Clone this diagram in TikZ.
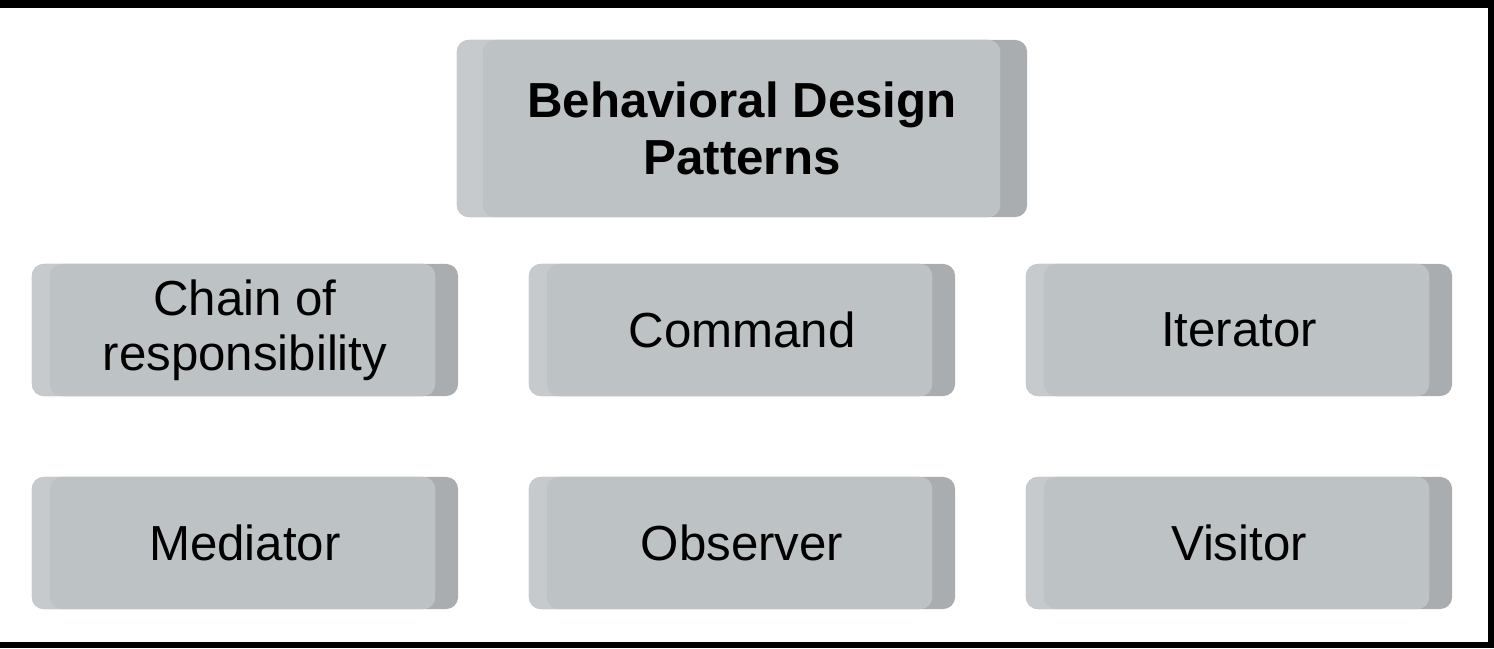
\documentclass[tikz,border=0pt]{standalone}
\usepackage{fontspec}
\setmainfont{Liberation Sans}
\definecolor{boxlight}{HTML}{C6CACC}
\definecolor{boxmid}{HTML}{BDC2C4}
\definecolor{boxdark}{HTML}{A9ADAF}
\tikzset{
  patbox/.style 2 args={rounded corners=0.12cm, fill=boxdark, inner sep=0pt,
    align=center, text=black,
    path picture={
      \fill[boxlight, rounded corners=0.12cm]
        (path picture bounding box.south west)
        rectangle ([xshift=-#2]path picture bounding box.north east);
      \fill[boxmid, rounded corners=0.12cm]
        ([xshift=#1]path picture bounding box.south west)
        rectangle ([xshift=-#2]path picture bounding box.north east);
    }},
  titlebox/.style={patbox={0.26cm}{0.27cm}, minimum width=5.70cm,
    minimum height=1.77cm, font=\bfseries\fontsize{14}{16.2}\selectfont},
  itembox/.style={patbox={0.18cm}{0.23cm}, minimum width=4.26cm,
    minimum height=1.32cm, font=\fontsize{14}{15.6}\selectfont},
}
\begin{document}
\begin{tikzpicture}[x=0.01cm, y=-0.01cm]
  \useasboundingbox (0,0) rectangle (1494,648);
  % frame
  \fill[black] (0,0) rectangle (1494,8);
  \fill[black] (1488,0) rectangle (1494,648);
  \fill[black] (0,642) rectangle (1494,648);
  % boxes
  \draw
    (742,128.5) node[titlebox] (behav){Behavioral Design\\Patterns}
    (245,330) node[itembox] (chain){Chain of\\responsibility}
    (742,330) node[itembox] (command){Command}
    (1239,330) node[itembox] (iter){Iterator}
    (245,543) node[itembox] (mediator){Mediator}
    (742,543) node[itembox] (observer){Observer}
    (1239,543) node[itembox] (visitor){Visitor};
\end{tikzpicture}
\end{document}
